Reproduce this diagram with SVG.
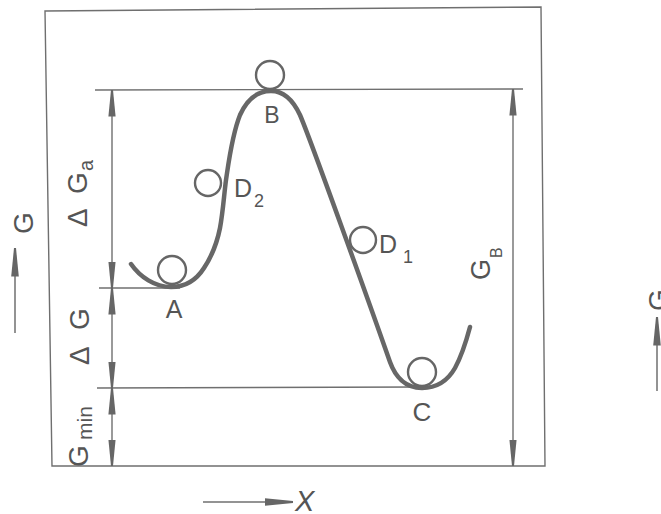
<svg xmlns="http://www.w3.org/2000/svg" width="661" height="514" viewBox="0 0 661 514">
  <style>
    .ln { fill: none; stroke: #6f6f6f; stroke-width: 1.4; }
    .curve { fill: none; stroke: #676767; stroke-width: 4.5; stroke-linecap: round; stroke-linejoin: round; }
    .ball { fill: none; stroke: #666; stroke-width: 2.4; }
    .lbl { font-family: "Liberation Sans", Arial, sans-serif; fill: #555; }
    .dim { fill: none; stroke: #6f6f6f; stroke-width: 1.4; marker-start: url(#ah); marker-end: url(#ah); }
    .axis { fill: none; stroke: #6f6f6f; stroke-width: 1.5; marker-end: url(#ah2); }
  </style>
  <defs>
    <marker id="ah" markerUnits="userSpaceOnUse" viewBox="0 0 27 10" markerWidth="27" markerHeight="10" refX="26.5" refY="5" orient="auto-start-reverse">
      <path d="M0,1.4 L26.5,4 L26.5,6 L0,8.6 Z" fill="#666"/>
    </marker>
    <marker id="ah2" markerUnits="userSpaceOnUse" viewBox="0 0 29 10" markerWidth="29" markerHeight="10" refX="28.5" refY="5" orient="auto">
      <path d="M0,1.2 L28.5,4 L28.5,6 L0,8.8 Z" fill="#666"/>
    </marker>
  </defs>
  <rect width="661" height="514" fill="#fff"/>

  <g id="frame">
    <polygon class="ln" points="45,11 541,7 545,466 52,466"/>
  </g>

  <g id="levels">
    <line class="ln" x1="95" y1="90" x2="523" y2="89"/>
    <line class="ln" x1="99" y1="288" x2="180" y2="288"/>
    <line class="ln" x1="97" y1="388" x2="420" y2="387"/>
  </g>

  <g id="connectors">
    <line class="dim" x1="112" y1="90" x2="112" y2="288"/>
    <line class="dim" x1="112" y1="288" x2="112" y2="388"/>
    <line class="dim" x1="112" y1="388" x2="112" y2="466"/>
    <line class="dim" x1="513" y1="89" x2="513" y2="466"/>
    <line class="axis" x1="15" y1="333" x2="15" y2="248"/>
    <line class="axis" x1="203" y1="502" x2="293" y2="502"/>
    <line class="axis" x1="657" y1="391" x2="657" y2="317"/>
  </g>

  <g id="energy-curve">
    <path class="curve" d="M131,264 C140,277 155,287 171,287 C186,287 197,279 204,268 C212,256 217,243 220,228 C223,212 224,195 226,180 C229,160 232,135 240,115 C248,97 260,91 271,91 C283,91 293,100 300,115 C310,138 370,305 390,362 C395,376 405,388 422,388 C435,388 447,382 455,368 C461,357 466,342 470,327"/>
  </g>

  <g id="node-A">
    <circle class="ball" cx="172" cy="270" r="14"/>
    <text class="lbl" x="174" y="318" font-size="25" text-anchor="middle">A</text>
  </g>
  <g id="node-B">
    <circle class="ball" cx="270" cy="75" r="14"/>
    <text class="lbl" x="272" y="123" font-size="23" text-anchor="middle">B</text>
  </g>
  <g id="node-C">
    <circle class="ball" cx="422" cy="372" r="14"/>
    <text class="lbl" x="422" y="421" font-size="26" text-anchor="middle">C</text>
  </g>
  <g id="node-D2">
    <circle class="ball" cx="208" cy="183" r="13"/>
    <text class="lbl" x="234" y="197" font-size="25">D<tspan x="254" y="207" font-size="18">2</tspan></text>
  </g>
  <g id="node-D1">
    <circle class="ball" cx="363" cy="240" r="13"/>
    <text class="lbl" x="379" y="253" font-size="25">D<tspan x="403" y="263" font-size="18">1</tspan></text>
  </g>

  <g id="labels">
    <text class="lbl" transform="translate(87,227) rotate(-90)" font-size="28"><tspan x="0">Δ</tspan><tspan x="33">G</tspan><tspan x="56" dy="6" font-size="20">a</tspan></text>
    <text class="lbl" transform="translate(89,365) rotate(-90)" font-size="28"><tspan x="0">Δ</tspan><tspan x="35">G</tspan></text>
    <text class="lbl" transform="translate(88,467) rotate(-90)" font-size="28"><tspan x="0">G</tspan><tspan x="27" dy="4" font-size="21">min</tspan></text>
    <text class="lbl" transform="translate(490,280) rotate(-90)" font-size="27"><tspan x="0">G</tspan><tspan x="22" dy="12" font-size="16">B</tspan></text>
    <text class="lbl" transform="translate(33,234) rotate(-90)" font-size="28">G</text>
    <text class="lbl" transform="translate(668,311) rotate(-90)" font-size="28">G</text>
    <text class="lbl" x="295" y="511" font-size="29" font-style="italic">X</text>
  </g>
</svg>
